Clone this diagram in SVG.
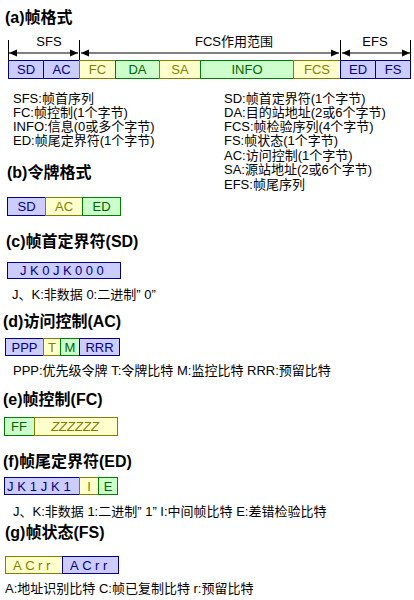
<svg xmlns="http://www.w3.org/2000/svg" width="414" height="600" viewBox="0 0 414 600">
<style>
text{font-family:"Liberation Sans","Noto Sans CJK SC",sans-serif;fill:#000}
.t{font-size:16px;font-weight:bold}
.l{font-size:13px}
.b{font-size:13px;text-anchor:middle}
.p{fill:#CCCCFF;stroke:#000080;stroke-width:1}
.y{fill:#FFFFCC;stroke:#808000;stroke-width:1}
.g{fill:#CCFFCC;stroke:#008000;stroke-width:1}
.tp{fill:#000080}
.ty{fill:#808000}
.tg{fill:#006600}
.tick{stroke:#000;stroke-width:1}
.arr{stroke:#000;stroke-width:1.2;marker-start:url(#ah);marker-end:url(#ah)}
</style>
<defs>
<marker id="ah" viewBox="0 0 8 8" refX="8" refY="4" markerWidth="8" markerHeight="8" markerUnits="userSpaceOnUse" orient="auto-start-reverse">
<path d="M0,0.5 L8,4 L0,7.5 z" fill="#000"/>
</marker>
</defs>

<g id="frame-a">
<text class="t" x="5" y="23">(a)帧格式</text>
<g id="connectors">
<line class="tick" x1="8.5" y1="40" x2="8.5" y2="60"/>
<line class="tick" x1="79.5" y1="40" x2="79.5" y2="60"/>
<line class="tick" x1="340.5" y1="40" x2="340.5" y2="60"/>
<line class="tick" x1="410.5" y1="40" x2="410.5" y2="60"/>
<line class="arr" x1="9" y1="53" x2="78" y2="53"/>
<line class="arr" x1="81" y1="53" x2="339" y2="53"/>
<line class="arr" x1="342" y1="53" x2="410" y2="53"/>
</g>
<text class="b" x="49" y="46">SFS</text>
<text class="b" x="234" y="46">FCS作用范围</text>
<text class="b" x="375" y="46">EFS</text>
<g id="a-SD"><rect class="p" x="8.5" y="60.5" width="35" height="18"/><text class="b tp" x="26" y="74">SD</text></g>
<g id="a-AC"><rect class="p" x="43.5" y="60.5" width="36" height="18"/><text class="b tp" x="61.5" y="74">AC</text></g>
<g id="a-FC"><rect class="y" x="79.5" y="60.5" width="36" height="18"/><text class="b ty" x="97.5" y="74">FC</text></g>
<g id="a-DA"><rect class="g" x="115.5" y="60.5" width="44" height="18"/><text class="b tg" x="137.5" y="74">DA</text></g>
<g id="a-SA"><rect class="y" x="159.5" y="60.5" width="41" height="18"/><text class="b ty" x="180" y="74">SA</text></g>
<g id="a-INFO"><rect class="g" x="200.5" y="60.5" width="93" height="18"/><text class="b tg" x="247" y="74">INFO</text></g>
<g id="a-FCS"><rect class="y" x="293.5" y="60.5" width="47" height="18"/><text class="b ty" x="317" y="74">FCS</text></g>
<g id="a-ED"><rect class="p" x="340.5" y="60.5" width="35" height="18"/><text class="b tp" x="358" y="74">ED</text></g>
<g id="a-FS"><rect class="p" x="375.5" y="60.5" width="35" height="18"/><text class="b tp" x="393" y="74">FS</text></g>
</g>

<g id="legend-a">
<text class="l" x="13" y="103">SFS:帧首序列</text>
<text class="l" x="13" y="117">FC:帧控制(1个字节)</text>
<text class="l" x="13" y="131">INFO:信息(0或多个字节)</text>
<text class="l" x="13" y="145">ED:帧尾定界符(1个字节)</text>
<text class="l" x="224" y="103">SD:帧首定界符(1个字节)</text>
<text class="l" x="224" y="117">DA:目的站地址(2或6个字节)</text>
<text class="l" x="224" y="131">FCS:帧检验序列(4个字节)</text>
<text class="l" x="224" y="145">FS:帧状态(1个字节)</text>
<text class="l" x="224" y="160">AC:访问控制(1个字节)</text>
<text class="l" x="224" y="174">SA:源站地址(2或6个字节)</text>
<text class="l" x="224" y="189">EFS:帧尾序列</text>
</g>

<g id="token-b">
<text class="t" x="7" y="178">(b)令牌格式</text>
<g id="b-SD"><rect class="p" x="7.5" y="197.5" width="38" height="18"/><text class="b tp" x="26.5" y="211">SD</text></g>
<g id="b-AC"><rect class="y" x="45.5" y="197.5" width="37" height="18"/><text class="b ty" x="64" y="211">AC</text></g>
<g id="b-ED"><rect class="g" x="82.5" y="197.5" width="38" height="18"/><text class="b tg" x="101.5" y="211">ED</text></g>
</g>

<g id="sd-c">
<text class="t" x="6" y="247">(c)帧首定界符(SD)</text>
<g id="c-box"><rect class="p" x="7.5" y="262.5" width="113" height="16"/><text class="l tp" x="20" y="275" style="letter-spacing:3.5px">JK0JK000</text></g>
<text class="l" x="12" y="299">J、K:非数据 0:二进制” 0”</text>
</g>

<g id="ac-d">
<text class="t" x="3" y="327">(d)访问控制(AC)</text>
<g id="d-PPP"><rect class="p" x="5.5" y="338.5" width="38" height="17"/><text class="b tp" x="24.5" y="352">PPP</text></g>
<g id="d-T"><rect class="y" x="43.5" y="338.5" width="17" height="17"/><text class="b ty" x="52" y="352">T</text></g>
<g id="d-M"><rect class="g" x="60.5" y="338.5" width="19" height="17"/><text class="b tg" x="70" y="352">M</text></g>
<g id="d-RRR"><rect class="p" x="79.5" y="338.5" width="40" height="17"/><text class="b tp" x="99.5" y="352">RRR</text></g>
<text class="l" x="13" y="375">PPP:优先级令牌 T:令牌比特 M:监控比特 RRR:预留比特</text>
</g>

<g id="fc-e">
<text class="t" x="3" y="405">(e)帧控制(FC)</text>
<g id="e-FF"><rect class="g" x="4.5" y="417.5" width="30" height="18"/><text class="b tg" x="19" y="431">FF</text></g>
<g id="e-Z"><rect class="y" x="34.5" y="417.5" width="83" height="18"/><text class="b ty" x="75" y="431" style="font-style:italic">ZZZZZZ</text></g>
</g>

<g id="ed-f">
<text class="t" x="3" y="467">(f)帧尾定界符(ED)</text>
<g id="f-JK"><rect class="p" x="4.5" y="477.5" width="75" height="17"/><text class="l tp" x="7" y="491" style="letter-spacing:3.8px">JK1JK1</text></g>
<g id="f-I"><rect class="y" x="79.5" y="477.5" width="19" height="17"/><text class="b ty" x="89" y="491">I</text></g>
<g id="f-E"><rect class="g" x="98.5" y="477.5" width="19" height="17"/><text class="b tg" x="108" y="491">E</text></g>
<text class="l" x="13" y="516">J、K:非数据 1:二进制” 1”  I:中间帧比特 E:差错检验比特</text>
</g>

<g id="fs-g">
<text class="t" x="5" y="538">(g)帧状态(FS)</text>
<g id="g-1"><rect class="y" x="5.5" y="556.5" width="57" height="17"/><text class="l ty" x="13" y="570" style="letter-spacing:3.5px">ACrr</text></g>
<g id="g-2"><rect class="p" x="62.5" y="556.5" width="56" height="17"/><text class="l tp" x="70" y="570" style="letter-spacing:3.5px">ACrr</text></g>
<text class="l" x="5" y="593">A:地址识别比特 C:帧已复制比特 r:预留比特</text>
</g>
</svg>
